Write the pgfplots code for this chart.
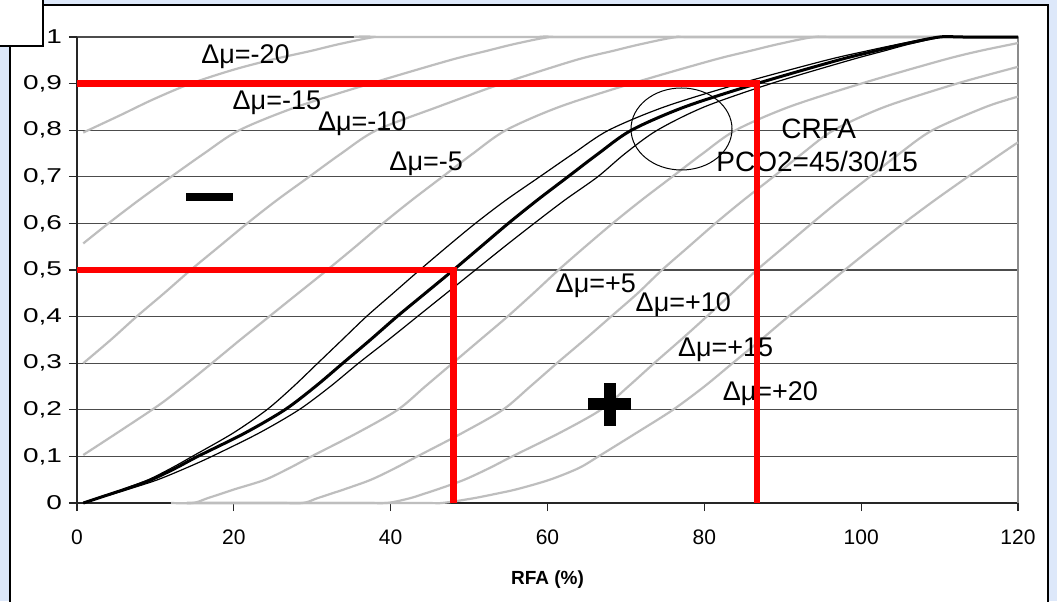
\documentclass[border=0pt]{standalone}
\usepackage{fontspec}
\setmainfont{Liberation Sans}
\usepackage{pgfplots}
\pgfplotsset{compat=1.18}
\definecolor{framebg}{RGB}{221,232,250}
\definecolor{isoline}{RGB}{190,190,190}
\definecolor{readoff}{RGB}{255,0,0}

\begin{document}
\begin{tikzpicture}
\useasboundingbox (0,0) rectangle (528.5pt,300.5pt);
% chart frame
\fill[framebg] (0,0) rectangle (528.5pt,300.5pt);
\fill[white] (5pt,0) rectangle (524pt,298pt);
\draw[black,line width=0.6pt] (5pt,-1pt) -- (5pt,298pt) -- (524pt,298pt) -- (524pt,-1pt);
\filldraw[fill=white,draw=black,line width=0.6pt] (-1pt,277.5pt) rectangle (21.5pt,302pt);

\begin{axis}[
  at={(38.5pt,49pt)}, anchor=south west,
  scale only axis, width=470.5pt, height=233pt,
  xmin=0, xmax=120, ymin=0, ymax=1,
  axis x line*=bottom, axis y line*=left,
  axis line style={-, black!85, line width=0.6pt},
  xtick={0,20,40,60,80,100,120},
  ytick={0,0.1,0.2,0.3,0.4,0.5,0.6,0.7,0.8,0.9,1},
  ymajorgrids, major grid style={black!70, line width=0.6pt},
  tick align=outside, major tick length=4pt,
  tick style={black!85, line width=0.6pt},
  /pgf/number format/assume math mode=true,
  /pgf/number format/use comma,
  /pgf/number format/fixed,
  /pgf/number format/precision=1,
  xticklabel style={font=\fontsize{10.5}{12}\selectfont, yshift=-6pt},
  yticklabel style={font=\fontsize{10}{12}\selectfont},
  yticklabel={\scalebox{1.4}[1]{\pgfmathprintnumber{\tick}}},
  xlabel={RFA (\%)},
  xlabel style={font=\bfseries\fontsize{9.5}{11}\selectfont, at={(axis description cs:0.5,-0.174)}, anchor=base},
  clip=false,
  every axis plot/.append style={smooth},
]
\draw[black!45, line width=0.6pt] (rel axis cs:1,0) -- (rel axis cs:1,1);

% iso-lines, Delta mu = -20 ... +20
\addplot[isoline, line width=1.1pt] coordinates {(0.8,0.795) (5.5,0.832) (9.7,0.866) (14.5,0.9) (20.0,0.93) (25.0,0.952) (29.8,0.97) (33.5,0.985) (38.0,1) (41,1) (120,1)};
\addplot[isoline, line width=1.1pt] coordinates {(0.8,0.557) (4.0,0.6) (7.9,0.65) (12.0,0.7) (16.2,0.75) (20.7,0.8) (28.0,0.85) (37.4,0.9) (47.5,0.95) (52.2,0.97) (55.8,0.985) (60.3,1) (63.5,1) (120,1)};
\addplot[isoline, line width=1.1pt] coordinates {(0.8,0.30) (4.3,0.35) (7.6,0.4) (11.1,0.45) (14.5,0.5) (18.1,0.55) (21.7,0.6) (25.5,0.65) (29.6,0.7) (33.7,0.75) (38.2,0.8) (46.0,0.85) (54.2,0.9) (63.5,0.95) (68.3,0.97) (72.0,0.985) (76.5,1) (80,1) (120,1)};
\addplot[isoline, line width=1.1pt] coordinates {(0.8,0.103) (5.8,0.158) (10.6,0.212) (13.9,0.255) (17.2,0.3) (20.8,0.35) (24.5,0.4) (28.2,0.45) (31.9,0.5) (35.5,0.55) (39.0,0.6) (42.7,0.65) (46.6,0.7) (50.5,0.75) (54.7,0.8) (61.5,0.85) (70.7,0.9) (81.0,0.95) (85.8,0.97) (89.5,0.985) (94.0,1) (97.5,1) (120,1)};
\addplot[isoline, line width=1.1pt] coordinates {(12.0,0) (14.8,0) (16.6,0.01) (18.4,0.02) (20.2,0.03) (24.0,0.05) (27.1,0.075) (29.9,0.1) (35.7,0.15) (40.9,0.2) (44.4,0.25) (47.9,0.3) (51.4,0.35) (54.9,0.4) (58.2,0.45) (61.4,0.5) (64.8,0.55) (68.3,0.6) (72.0,0.65) (75.9,0.7) (79.8,0.75) (84.0,0.8) (90.8,0.85) (100.0,0.9) (110.3,0.95) (115.1,0.97) (120,0.987)};
\addplot[isoline, line width=1.1pt] coordinates {(14.0,0) (25.5,0) (28.8,0) (30.6,0.01) (32.4,0.02) (34.2,0.03) (37.5,0.05) (40.6,0.075) (43.4,0.1) (49.1,0.15) (54.3,0.2) (57.8,0.25) (61.2,0.3) (64.7,0.35) (68.1,0.4) (71.5,0.45) (74.6,0.5) (78.0,0.55) (81.4,0.6) (85.0,0.65) (88.8,0.7) (92.5,0.75) (96.5,0.8) (103.0,0.85) (112.2,0.9) (120,0.936)};
\addplot[isoline, line width=1.1pt] coordinates {(14.0,0) (36.0,0) (39.5,0) (42.4,0.01) (44.3,0.02) (46.1,0.03) (49.4,0.05) (52.6,0.075) (55.5,0.1) (61.5,0.15) (66.8,0.2) (70.3,0.25) (73.6,0.3) (77.0,0.35) (80.3,0.4) (83.5,0.45) (86.7,0.5) (90.2,0.55) (93.7,0.6) (97.3,0.65) (101.1,0.7) (104.9,0.75) (109.1,0.8) (115.9,0.85) (120,0.872)};
\addplot[isoline, line width=1.1pt] coordinates {(14.0,0) (43.0,0) (46.5,0) (50.5,0.01) (53.5,0.02) (56.2,0.03) (60.3,0.05) (64.0,0.075) (66.5,0.1) (71.3,0.15) (76.0,0.2) (80.0,0.25) (83.6,0.3) (87.2,0.35) (90.7,0.4) (94.3,0.45) (97.9,0.5) (101.6,0.55) (105.4,0.6) (109.4,0.65) (113.6,0.7) (117.9,0.75) (120,0.774)};

% CRFA curves, PCO2 = 45 / 15 (thin) and 30 (thick)
\addplot[black, line width=0.6pt] coordinates {(0.8,0) (2.5,0.01) (4.2,0.02) (5.95,0.03) (9.1,0.05) (12.05,0.075) (14.7,0.1) (19.9,0.15) (24.2,0.2) (27.6,0.25) (30.7,0.3) (33.8,0.35) (36.9,0.4) (40.3,0.45) (43.7,0.5) (47.2,0.55) (50.8,0.6) (54.7,0.65) (59.0,0.7) (63.3,0.75) (67.8,0.8) (74.9,0.85) (84.5,0.9) (95.5,0.95) (100.7,0.97) (104.9,0.985) (109.7,1) (113,1) (120,1)};
\addplot[black, line width=0.6pt] coordinates {(0.8,0) (2.75,0.01) (4.7,0.02) (6.65,0.03) (10.3,0.05) (13.9,0.075) (17.2,0.1) (23.2,0.15) (28.3,0.2) (32.3,0.25) (35.9,0.3) (39.7,0.35) (43.4,0.4) (47.1,0.45) (50.8,0.5) (54.5,0.55) (58.3,0.6) (62.2,0.65) (66.4,0.7) (69.9,0.75) (74.0,0.8) (80.0,0.85) (88.5,0.9) (98.5,0.95) (102.9,0.97) (106.2,0.985) (110.4,1) (113.5,1) (120,1)};
\addplot[black, line width=1.5pt] coordinates {(0.8,0) (2.6,0.01) (4.4,0.02) (6.2,0.03) (9.5,0.05) (12.6,0.075) (15.4,0.1) (21.4,0.15) (26.5,0.2) (30.4,0.25) (33.9,0.3) (37.4,0.35) (40.8,0.4) (44.4,0.45) (48.0,0.5) (51.5,0.55) (55.0,0.6) (58.7,0.65) (62.6,0.7) (66.5,0.75) (70.7,0.8) (77.5,0.85) (86.7,0.9) (97.0,0.95) (101.8,0.97) (105.5,0.985) (110.0,1) (113,1) (120,1)};

% labels
\begin{scope}[every node/.style={anchor=base west, inner sep=0pt, font=\fontsize{13.5}{16}\selectfont}]
\node at (axis cs:15.8,0.9435) {Δμ=-20};
\node at (axis cs:19.8,0.845) {Δμ=-15};
\node at (axis cs:30.7,0.799) {Δμ=-10};
\node at (axis cs:39.8,0.713) {Δμ=-5};
\node at (axis cs:61.0,0.451) {Δμ=+5};
\node at (axis cs:71.2,0.410) {Δμ=+10};
\node at (axis cs:76.6,0.315) {Δμ=+15};
\node at (axis cs:82.3,0.2195) {Δμ=+20};
\end{scope}
\node[anchor=base, inner sep=0pt, font=\fontsize{14}{17}\selectfont] at (axis cs:94.6,0.7826) {CRFA};
\node[anchor=base, inner sep=0pt, font=\fontsize{14}{17}\selectfont] at (axis cs:94.4,0.711) {PCO2=45/30/15};

% read-off lines
\addplot[readoff, line width=3.2pt, line join=miter, sharp plot] coordinates {(0,0.5) (48.0,0.5) (48.0,0)};
\addplot[readoff, line width=3.2pt, line join=miter, sharp plot] coordinates {(0,0.9) (86.7,0.9) (86.7,0)};

\draw[black, line width=0.5pt] (axis cs:77.09,0.8026) ellipse [x radius=25.25pt, y radius=20.5pt];

% sign markers
\fill[black] (axis cs:13.9,0.647) rectangle (axis cs:19.9,0.665);
\fill[black] (axis cs:67.2,0.165) rectangle (axis cs:68.7,0.2569);
\fill[black] (axis cs:65.2,0.1996) rectangle (axis cs:70.6,0.2247);
\end{axis}
\end{tikzpicture}
\end{document}
